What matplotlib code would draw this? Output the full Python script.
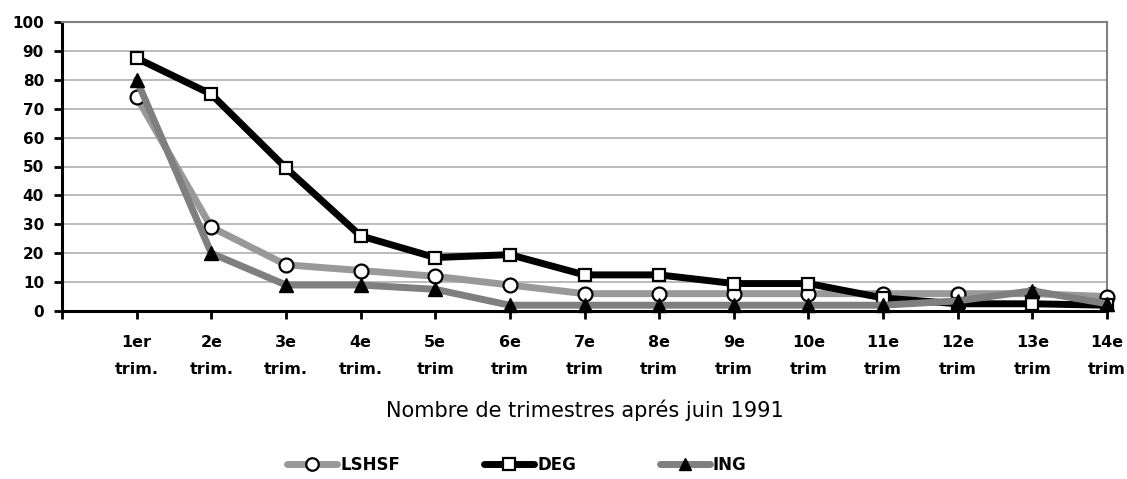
import matplotlib
matplotlib.use("Agg")
import matplotlib.pyplot as plt
from matplotlib.lines import Line2D

plt.rcParams['font.family'] = ['DejaVu Sans']

categories = ["1er\ntrim.", "2e\ntrim.", "3e\ntrim.", "4e\ntrim.", "5e\ntrim", "6e\ntrim",
              "7e\ntrim", "8e\ntrim", "9e\ntrim", "10e\ntrim", "11e\ntrim", "12e\ntrim",
              "13e\ntrim", "14e\ntrim"]
lshsf = [74, 29, 16, 14, 12, 9, 6, 6, 6, 6, 6, 6, 6, 5]
deg = [87.5, 75, 49.5, 26, 18.5, 19.5, 12.5, 12.5, 9.5, 9.5, 4.5, 2.5, 2.5, 2]
ing = [80, 20, 9, 9, 7.5, 2, 2, 2, 2, 2, 2, 3.5, 7, 2.5]
yticks = list(range(0, 101, 10))

C_LSHSF = '#999999'
C_DEG = '#000000'
C_ING = '#7f7f7f'
LW = 5.0
MS = 10

fig = plt.figure(figsize=(11.27, 4.79), dpi=100)
ax = fig.add_axes([62/1127, 1-311/479, (1107-62)/1127, (311-22)/479])

x = list(range(1, len(categories) + 1))
ax.plot(x, lshsf, color=C_LSHSF, lw=LW, marker='o', ms=MS, mfc='white', mec='black', mew=1.6,
        zorder=3, clip_on=False, solid_joinstyle='round', solid_capstyle='round')
ax.plot(x, deg, color=C_DEG, lw=LW, marker='s', ms=MS - 1, mfc='white', mec='black', mew=1.6,
        zorder=4, clip_on=False, solid_joinstyle='round', solid_capstyle='round')
ax.plot(x, ing, color=C_ING, lw=LW, marker='^', ms=MS, mfc='black', mec='black', mew=1.0,
        zorder=5, clip_on=False, solid_joinstyle='round', solid_capstyle='round')

ax.set_xlim(0, 14)
ax.set_ylim(0, 100)
ax.set_yticks(yticks)
ax.set_yticklabels([str(v) for v in yticks], fontsize=11, fontweight='bold')
ax.set_xticks(range(0, 15))
ax.set_xticklabels([""] + categories, fontsize=11.5, fontweight='bold', linespacing=2.0)
ax.tick_params(axis='both', direction='out', length=6, width=2, color='black')
ax.tick_params(axis='x', pad=11)
ax.tick_params(axis='y', pad=7)
ax.yaxis.grid(True, color='#a8a8a8', lw=1.1)
ax.set_axisbelow(True)
for s in ['left', 'bottom']:
    ax.spines[s].set_linewidth(2.2)
    ax.spines[s].set_color('black')
for s in ['top', 'right']:
    ax.spines[s].set_linewidth(1.5)
    ax.spines[s].set_color('#808080')
for lab in ax.get_xticklabels():
    lab.set_multialignment('center')

fig.text(585/1127, 1-410/479, "Nombre de trimestres aprés juin 1991", ha='center', va='center',
         fontsize=15)

handles = [
    Line2D([], [], color=C_LSHSF, lw=LW, marker='o', ms=9, mfc='white', mec='black', mew=1.6,
           solid_capstyle='round'),
    Line2D([], [], color=C_DEG, lw=LW, marker='s', ms=9, mfc='white', mec='black', mew=1.6,
           solid_capstyle='round'),
    Line2D([], [], color=C_ING, lw=LW, marker='^', ms=9, mfc='black', mec='black', mew=1.0,
           solid_capstyle='round'),
]
leg = fig.legend(handles, ['LSHSF', 'DEG', 'ING'], loc='center', bbox_to_anchor=(517/1127, 1-465/479),
                 ncol=3, frameon=False, prop={'weight': 'bold', 'size': 12},
                 handlelength=3.0, handletextpad=0.2, columnspacing=5.0)

fig.savefig("out.png", dpi=100)
